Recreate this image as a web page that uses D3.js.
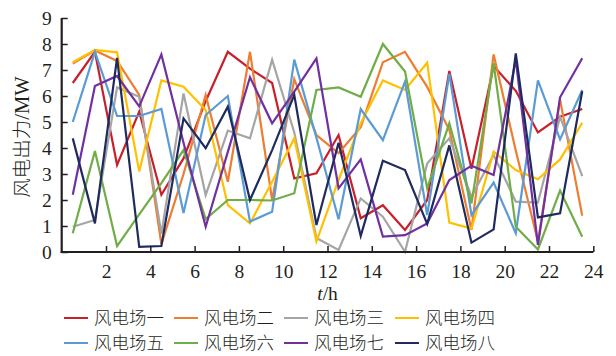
<!DOCTYPE html>
<html>
<head>
<meta charset="utf-8">
<script src="https://cdn.jsdelivr.net/npm/d3@7"></script>
<style>
  html, body { margin: 0; padding: 0; background: #fff; }
  svg text { fill: #231f20; }
</style>
</head>
<body>
<svg id="chart" width="616" height="356"></svg>
<script>
// Hourly wind-farm output (MW), sampled at the middle of each hour
const hours = d3.range(24).map(i => i + 0.5);
const farmNames = ["风电场一", "风电场二", "风电场三", "风电场四", "风电场五", "风电场六", "风电场七", "风电场八"];
const farmColors = ["#C8202A", "#ED7D31", "#A5A5A5", "#FFC000", "#5B9BD5", "#70AD47", "#7030A0", "#1F2A5E"];

const farm1 = [6.5, 7.7, 3.35, 5.4, 2.2, 3.6, 5.8, 7.7, 7.05, 6.5, 2.83, 3.03, 4.5, 1.3, 1.8, 0.85, 2.0, 6.96, 3.2, 7.15, 6.2, 4.6, 5.2, 5.5];
const farm2 = [7.25, 7.75, 7.35, 6.04, 0.3, 3.0, 6.04, 2.7, 7.7, 2.0, 6.65, 4.5, 3.8, 4.8, 7.3, 7.7, 6.35, 4.7, 0.85, 7.6, 3.9, 0.4, 5.85, 1.4];
const farm3 = [0.97, 1.23, 6.33, 5.97, 0.7, 6.1, 2.19, 4.67, 4.37, 7.4, 4.6, 0.54, 0.08, 2.06, 1.36, 0.01, 3.4, 4.37, 2.13, 3.73, 1.94, 1.9, 5.2, 2.92];
const farm4 = [7.3, 7.77, 7.68, 3.1, 6.6, 6.36, 5.46, 1.8, 1.1, 2.7, 4.37, 0.4, 2.77, 4.95, 6.6, 6.23, 7.28, 1.13, 0.9, 3.86, 3.15, 2.8, 3.56, 4.97];
const farm5 = [5.0, 7.7, 5.23, 5.23, 5.5, 1.5, 5.27, 6.0, 1.17, 1.55, 7.4, 4.4, 1.26, 5.5, 4.3, 6.55, 1.42, 6.85, 1.42, 2.67, 0.72, 6.6, 4.33, 6.23];
const farm6 = [0.72, 3.88, 0.23, 1.45, 2.65, 3.92, 1.27, 2.0, 2.0, 1.98, 2.26, 6.23, 6.33, 5.97, 8.0, 6.94, 2.45, 4.95, 1.87, 7.26, 0.97, 0.1, 2.36, 0.59];
const farm7 = [2.2, 6.38, 6.77, 5.6, 7.6, 4.2, 0.97, 3.85, 6.72, 4.95, 6.17, 7.45, 2.45, 3.56, 0.59, 0.65, 1.1, 2.77, 3.32, 2.96, 7.4, 0.27, 5.95, 7.45];
const farm8 = [4.37, 1.1, 7.47, 0.2, 0.23, 5.14, 3.99, 5.59, 2.0, 3.92, 6.04, 1.04, 4.2, 0.62, 3.51, 3.15, 1.08, 4.1, 0.36, 0.87, 7.64, 1.33, 1.49, 6.18];
const farmSeries = [farm1, farm2, farm3, farm4, farm5, farm6, farm7, farm8];

const xTicks = [2, 4, 6, 8, 10, 12, 14, 16, 18, 20, 22, 24];
const yTicks = [0, 1, 2, 3, 4, 5, 6, 7, 8, 9];

const svg = d3.select("#chart");
const numFont = "'Liberation Serif', 'Times New Roman', serif";
const cjkFont = "'Noto Sans CJK SC', sans-serif";

const x = d3.scaleLinear().domain([0, 24]).range([61.7, 593.3]);
const y = d3.scaleLinear().domain([0, 9]).range([252, 18]);

// Series lines
const line = d3.line().x((d, i) => x(hours[i])).y(d => y(d));
const plot = svg.append("g");
farmSeries.forEach((vals, k) => {
  plot.append("path")
    .datum(vals)
    .attr("fill", "none")
    .attr("stroke", farmColors[k])
    .attr("stroke-width", 2.2)
    .attr("stroke-linejoin", "miter")
    .attr("d", line);
});

// Axes with inward ticks
const xAxis = svg.append("g")
  .attr("transform", `translate(0,${y(0)})`)
  .call(d3.axisBottom(x).tickValues(xTicks).tickSizeInner(-6).tickSizeOuter(0).tickPadding(12));
const yAxis = svg.append("g")
  .attr("transform", `translate(${x(0)},0)`)
  .call(d3.axisLeft(y).tickValues(yTicks).tickSizeInner(-6).tickSizeOuter(0).tickPadding(10));

[xAxis, yAxis].forEach(g => {
  g.select(".domain").attr("stroke", "#231f20").attr("stroke-width", 2.2);
  g.selectAll(".tick line").attr("stroke", "#231f20").attr("stroke-width", 1.5);
  g.selectAll(".tick text")
    .attr("font-family", numFont)
    .attr("font-size", 19.5)
    .attr("fill", "#231f20");
});
xAxis.select(".domain").attr("d", `M${x(0) - 1},0H${x(24)}`);
yAxis.select(".domain").attr("d", `M0,${y(0) + 1}V${y(9)}`);

// Axis titles
svg.append("text")
  .attr("transform", `translate(29,${(y(0) + y(9)) / 2 + 2}) rotate(-90)`)
  .attr("text-anchor", "middle")
  .attr("font-family", cjkFont)
  .attr("font-size", 19.5)
  .attr("font-weight", 300)
  .html(`<tspan>风电出力</tspan><tspan font-family="${numFont}" font-size="20.5">/MW</tspan>`);

svg.append("text")
  .attr("x", (x(0) + x(24)) / 2)
  .attr("y", 300)
  .attr("text-anchor", "middle")
  .attr("font-family", numFont)
  .attr("font-size", 19.5)
  .html(`<tspan font-style="italic">t</tspan>/h`);

// Legend: two rows of four
const legend = svg.append("g");
const colX = [64, 174, 284, 395];
const rowY = [318, 343];
farmNames.forEach((name, k) => {
  const cx = colX[k % 4], cy = rowY[Math.floor(k / 4)];
  legend.append("line")
    .attr("x1", cx).attr("x2", cx + 24)
    .attr("y1", cy).attr("y2", cy)
    .attr("stroke", farmColors[k]).attr("stroke-width", 2);
  legend.append("text")
    .attr("x", cx + 30).attr("y", cy + 6.3)
    .attr("font-family", cjkFont)
    .attr("font-size", 17.5)
    .attr("font-weight", 300)
    .text(name);
});
</script>
</body>
</html>
